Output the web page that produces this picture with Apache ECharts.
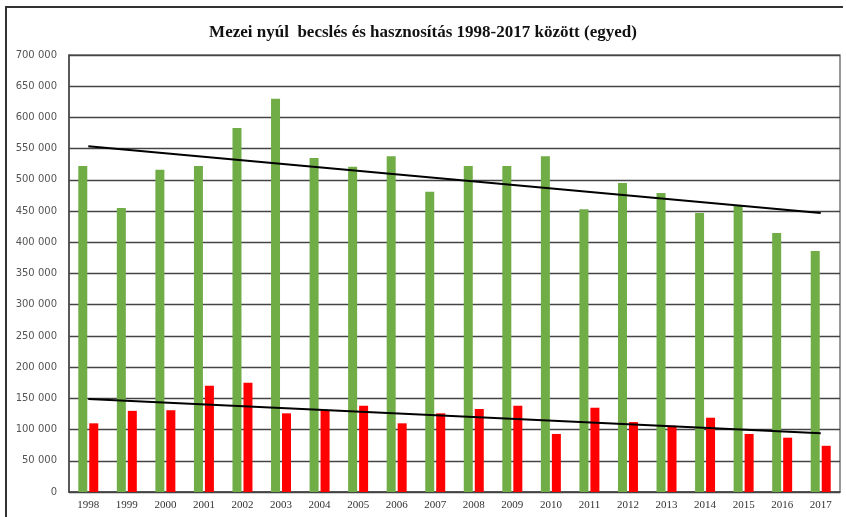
<!DOCTYPE html>
<html>
<head>
<meta charset="utf-8">
<script src="https://cdn.jsdelivr.net/npm/echarts@6/dist/echarts.min.js"></script>
<style>
  html, body { margin: 0; padding: 0; background: #fff; }
  #chart { width: 846px; height: 517px; }
</style>
</head>
<body>
<div id="chart"></div>
<script>
// years on the x axis
const years = ['1998', '1999', '2000', '2001', '2002', '2003', '2004', '2005', '2006', '2007',
  '2008', '2009', '2010', '2011', '2012', '2013', '2014', '2015', '2016', '2017'];

// becslés (estimate), green bars
const estimate = [522000, 455000, 516000, 522000, 583000, 630000, 535000, 521000, 538000, 481000,
  522000, 522000, 538000, 453000, 495000, 479000, 447000, 458000, 415000, 386000];

// hasznosítás (harvest), red bars
const harvest = [110000, 130000, 131000, 170000, 175000, 126000, 131000, 138000, 110000, 126000,
  133000, 138000, 93000, 135000, 112000, 106000, 119000, 93000, 87000, 74000];

// trend line end values, first and last year
const estimateTrend = [554000, 447000];
const harvestTrend = [149000, 94000];

const title = 'Mezei nyúl  becslés és hasznosítás 1998-2017 között (egyed)';

// line from first to last category, nothing in between
function trendData(ends) {
  return years.map((_, i) => i === 0 ? ends[0] : (i === years.length - 1 ? ends[1] : null));
}

const fmtThousands = v => v === 0 ? '0' : String(v).replace(/\B(?=(\d{3})+(?!\d))/g, ' ');

const chart = echarts.init(document.getElementById('chart'));
chart.setOption({
  animation: false,
  backgroundColor: '#fff',
  title: {
    text: title,
    left: 'center',
    top: 19,
    textStyle: { fontFamily: 'Liberation Serif', fontSize: 17, fontWeight: 'bold', color: '#111' },
  },
  graphic: [
    // partial outer frame of the original picture
    { type: 'line', shape: { x1: 5, y1: 7, x2: 843, y2: 7 }, style: { stroke: '#333', lineWidth: 2 } },
    { type: 'line', shape: { x1: 6, y1: 7, x2: 6, y2: 517 }, style: { stroke: '#333', lineWidth: 2 } },
  ],
  grid: { left: 69, right: 6, top: 55, bottom: 25, show: true, borderColor: '#777', borderWidth: 1.5 },
  xAxis: {
    type: 'category',
    data: years,
    axisLine: { lineStyle: { color: '#444', width: 1.5 } },
    axisTick: { show: false },
    axisLabel: { fontFamily: 'Liberation Serif', fontSize: 11, color: '#333', margin: 8 },
  },
  yAxis: {
    type: 'value',
    min: 0,
    max: 700000,
    interval: 50000,
    axisLine: { show: true, lineStyle: { color: '#444', width: 1.5 } },
    axisTick: { show: false },
    axisLabel: { fontFamily: 'DejaVu Sans', fontSize: 10, color: '#555', margin: 12, formatter: fmtThousands },
    splitLine: { lineStyle: { color: '#444', width: 1.3 } },
  },
  series: [
    {
      name: 'becslés',
      type: 'bar',
      data: estimate,
      barWidth: 9,
      barGap: '22%',
      itemStyle: { color: '#70AD47' },
    },
    {
      name: 'hasznosítás',
      type: 'bar',
      data: harvest,
      barWidth: 9,
      itemStyle: { color: '#FF0000' },
    },
    {
      name: 'becslés trend',
      type: 'line',
      data: trendData(estimateTrend),
      connectNulls: true,
      symbol: 'none',
      lineStyle: { color: '#000', width: 2 },
      z: 5,
    },
    {
      name: 'hasznosítás trend',
      type: 'line',
      data: trendData(harvestTrend),
      connectNulls: true,
      symbol: 'none',
      lineStyle: { color: '#000', width: 2 },
      z: 5,
    },
  ],
});
</script>
</body>
</html>
